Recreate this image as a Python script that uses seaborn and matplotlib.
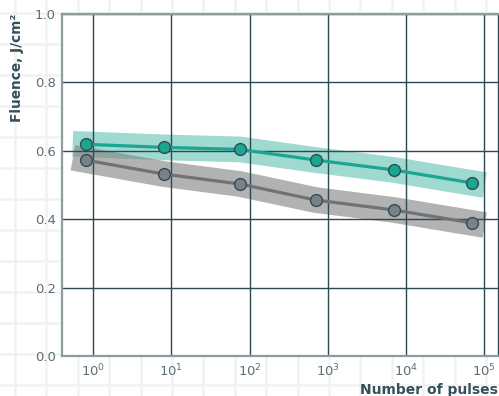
import numpy as np
import pandas as pd
import matplotlib
matplotlib.use("Agg")
import matplotlib.pyplot as plt
import seaborn as sns

# values
pulses = [0.8, 8, 75, 700, 7000, 70000]
fluence_teal = [0.619, 0.610, 0.604, 0.573, 0.544, 0.506]
fluence_gray = [0.573, 0.532, 0.503, 0.456, 0.427, 0.389]
y_ticks = [0.0, 0.2, 0.4, 0.6, 0.8, 1.0]
x_ticks = [1, 10, 100, 1000, 10000, 100000]

TEAL = "#1ba691"
GRAY = "#6f7378"
EDGE = "#2f4b55"
GRID = "#2d4a53"
SPINE = "#8c9ca2"
LABEL = "#34505a"
TICK = "#5d6e74"

sns.set_style("white")
plt.rcParams["font.family"] = ["DejaVu Sans"]

df = pd.DataFrame({"pulses": pulses, "teal": fluence_teal, "gray": fluence_gray})

W, H = 499, 396
fig = plt.figure(figsize=(W / 100, H / 100), dpi=100)

# faint graph-paper background
bg = fig.add_axes([0, 0, 1, 1], zorder=-5)
bg.set_xlim(0, W)
bg.set_ylim(H, 0)
bg.axis("off")
for x in np.arange(15, W, 31.4):
    bg.axvline(x, color="#f2f2f2", lw=1.8)
for y in np.arange(13, H, 31):
    bg.axhline(y, color="#f2f2f2", lw=1.8)

ax = fig.add_axes([62 / W, (H - 356) / H, (498 - 62) / W, (356 - 14) / H])
ax.set_facecolor("white")
ax.set_xscale("log")
ax.set_axisbelow("line")

# shaded bands drawn as thick translucent lines
sns.lineplot(data=df, x="pulses", y="teal", ax=ax, color=TEAL, alpha=0.42,
             lw=18.5, solid_capstyle="projecting", solid_joinstyle="miter",
             sort=False, estimator=None, zorder=1)
sns.lineplot(data=df, x="pulses", y="gray", ax=ax, color="#808080", alpha=0.6,
             lw=18.5, solid_capstyle="projecting", solid_joinstyle="miter",
             sort=False, estimator=None, zorder=1.1)

sns.lineplot(data=df, x="pulses", y="teal", ax=ax, color=TEAL, lw=2.3,
             marker="o", markersize=8.5, markerfacecolor=TEAL,
             markeredgecolor=EDGE, markeredgewidth=1.0,
             sort=False, estimator=None, zorder=3)
sns.lineplot(data=df, x="pulses", y="gray", ax=ax, color=GRAY, lw=2.3,
             marker="o", markersize=8.5, markerfacecolor="#7b8287",
             markeredgecolor=EDGE, markeredgewidth=1.0,
             sort=False, estimator=None, zorder=3)

ax.set_xlim(0.4, 150000)
ax.set_ylim(0, 1.0)
ax.set_yticks(y_ticks)
ax.set_yticklabels([f"{v:.1f}" for v in y_ticks])
ax.set_xticks(x_ticks)
ax.xaxis.set_minor_locator(matplotlib.ticker.NullLocator())
ax.grid(True, which="major", color=GRID, lw=1.0)
ax.tick_params(axis="both", length=0, labelsize=9.5, labelcolor=TICK)
ax.tick_params(axis="y", pad=4.5)
ax.tick_params(axis="x", pad=5)

for side in ["left", "bottom", "top", "right"]:
    ax.spines[side].set_color(SPINE)
    ax.spines[side].set_linewidth(1.6)
ax.spines["right"].set_color(GRID)
ax.spines["right"].set_linewidth(1.0)

ax.set_ylabel("Fluence, J/cm²", fontsize=9.8, fontweight="bold", color=LABEL,
              loc="top")
ax.yaxis.set_label_coords(-0.087, 1.0)
ax.set_xlabel("Number of pulses", fontsize=10, fontweight="bold", color=LABEL,
              loc="right")
ax.xaxis.set_label_coords(1.0, -0.079)

fig.savefig("out.png", dpi=100)
